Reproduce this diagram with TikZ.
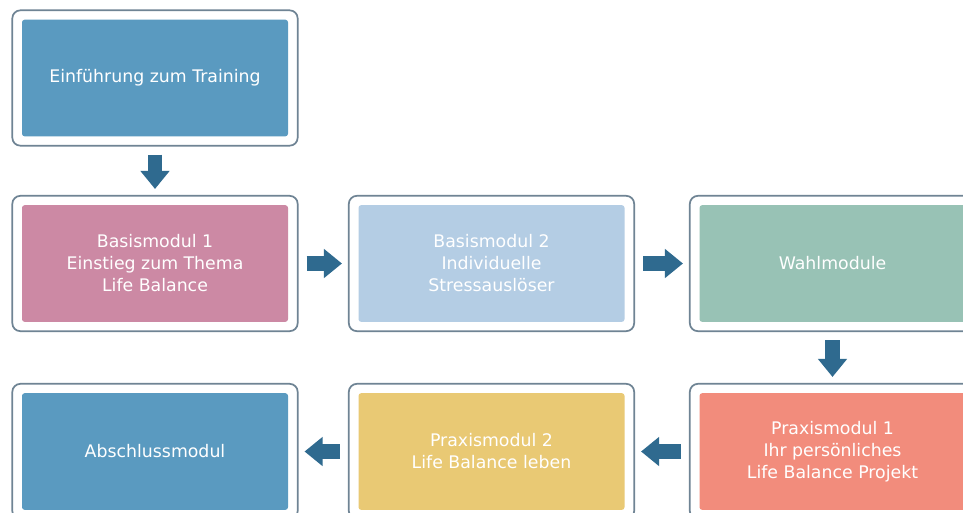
\documentclass[tikz,border=0pt]{standalone}
\usepackage{fontspec}
\setmainfont{DejaVu Sans}
\usetikzlibrary{fit,arrows.meta}
\definecolor{modblue}{HTML}{5A9AC0}
\definecolor{modpink}{HTML}{CC89A4}
\definecolor{modlight}{HTML}{B4CDE4}
\definecolor{modteal}{HTML}{98C2B5}
\definecolor{modsalmon}{HTML}{F28C7C}
\definecolor{modyellow}{HTML}{E9C974}
\definecolor{arrowblue}{HTML}{2F6A8F}
\definecolor{framegray}{HTML}{6F8494}
\begin{document}
\begin{tikzpicture}[x=0.75pt, y=-0.75pt, module/.style={rectangle, rounded corners=2pt, minimum width=199.5pt, minimum height=87.5pt, text=white, align=center, font=\fontsize{13}{16.5}\selectfont, inner sep=0pt}, frame/.style={draw=framegray, line width=1.3pt, rounded corners=6pt, fill=white, minimum width=214pt, minimum height=101.5pt}, flow/.style={draw=arrowblue, line width=11pt, -{Triangle[length=13.5pt, width=21pt]}, shorten <=6pt, shorten >=4.5pt}]

\clip (0,0) rectangle (963,512);
\fill[white] (0,0) rectangle (963,512);

% frames first, modules on top
\node[frame] (fein) at (155,78) {};
\node[frame] (fbas1) at (155,263.5) {};
\node[frame] (fbas2) at (491.5,263.5) {};
\node[frame] (fwahl) at (832.5,263.5) {};
\node[frame] (fprax1) at (832.5,451.5) {};
\node[frame] (fprax2) at (491.5,451.5) {};
\node[frame] (fab) at (155,451.5) {};

\node[module, fill=modblue] (einf) at (155,78) {Einführung zum Training};
\node[module, fill=modpink] (bas1) at (155,263.5) {Basismodul 1\\Einstieg zum Thema\\Life Balance};
\node[module, fill=modlight] (bas2) at (491.5,263.5) {Basismodul 2\\Individuelle\\Stressauslöser};
\node[module, fill=modteal] (wahl) at (832.5,263.5) {Wahlmodule};
\node[module, fill=modsalmon] (prax1) at (832.5,451.5) {Praxismodul 1\\Ihr persönliches\\Life Balance Projekt};
\node[module, fill=modyellow] (prax2) at (491.5,451.5) {Praxismodul 2\\Life Balance leben};
\node[module, fill=modblue] (ab) at (155,451.5) {Abschlussmodul};

\draw[flow] (fein) -- (fbas1);
\draw[flow] (fbas1) -- (fbas2);
\draw[flow] (fbas2) -- (fwahl);
\draw[flow] (fwahl) -- (fprax1);
\draw[flow] (fprax1) -- (fprax2);
\draw[flow] (fprax2) -- (fab);

\end{tikzpicture}
\end{document}
